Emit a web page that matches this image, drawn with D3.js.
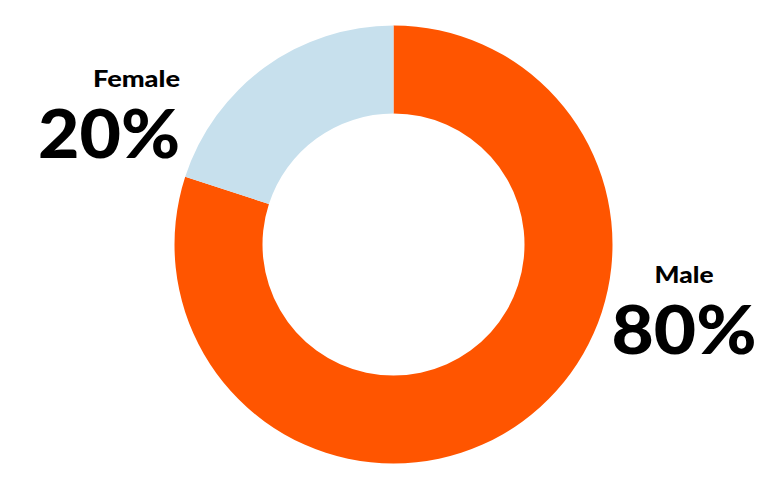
<!DOCTYPE html>
<meta charset="utf-8">
<style>
  body { margin: 0; background: #fff; }
  text { font-family: Lato, "DejaVu Sans", sans-serif; font-weight: 900; fill: #000; }
</style>
<svg width="784" height="477"></svg>
<script src="https://d3js.org/d3.v7.min.js"></script>
<script>

var categories = ["Male", "Female"],
    values = [80, 20],
    labels = ["80%", "20%"],
    colors = ["#ff5500", "#c7e0ed"];

var svg = d3.select("svg"),
    cx = 393.5,
    cy = 244.5,
    outer = 219,
    inner = 131;

var color = d3.scaleOrdinal()
    .domain(categories)
    .range(colors);

var pie = d3.pie()
    .sort(null)
    .value(function(d, i) { return values[i]; });

var arc = d3.arc()
    .innerRadius(inner)
    .outerRadius(outer);

var g = svg.append("g")
    .attr("transform", "translate(" + cx + "," + cy + ")");

g.selectAll("path")
  .data(pie(categories))
  .enter().append("path")
    .attr("d", arc)
    .attr("fill", function(d) { return color(d.data); });

// label blocks beside the ring; the original face is wider than Lato,
// so stretch to the measured widths
var place = {
  Male:   {x: 684, y: 283, anchor: "middle", w1: 59, w2: 145},
  Female: {x: 180, y: 87, anchor: "end", w1: 87, w2: 142}
};

categories.forEach(function(c, i) {
  var p = place[c];
  svg.append("text")
      .attr("x", p.x)
      .attr("y", p.y)
      .attr("text-anchor", p.anchor)
      .attr("textLength", p.w1)
      .attr("lengthAdjust", "spacingAndGlyphs")
      .style("font-size", "22px")
      .text(c);
  svg.append("text")
      .attr("x", p.x)
      .attr("y", p.y + 71)
      .attr("text-anchor", p.anchor)
      .attr("textLength", p.w2)
      .attr("lengthAdjust", "spacingAndGlyphs")
      .style("font-size", "66px")
      .text(labels[i]);
});

</script>
